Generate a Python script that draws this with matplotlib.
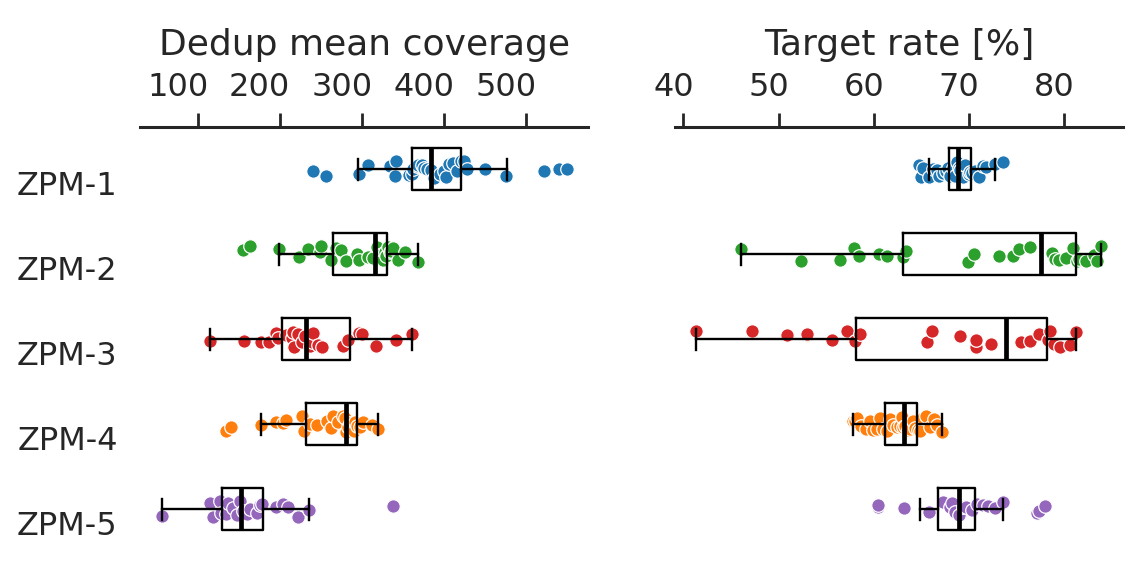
import numpy as np
import matplotlib
matplotlib.use("Agg")
import matplotlib.pyplot as plt
from matplotlib.transforms import ScaledTranslation

# ---------------------------------------------------------------- data
samples = ["ZPM-1", "ZPM-2", "ZPM-3", "ZPM-4", "ZPM-5"]
colors = ["#1f77b4", "#2ca02c", "#d62728", "#ff7f0e", "#9467bd"]

# Dedup mean coverage per library
coverage_zpm1 = [240, 256, 296, 307, 334, 341, 342, 358, 361, 362, 367, 369, 373,
                 376, 379, 384, 388, 395, 400, 403, 406, 411, 416, 421, 424, 428,
                 450, 476, 522, 540, 550]
coverage_zpm2 = [155, 164, 199, 223, 234, 249, 250, 263, 269, 275, 281, 294, 297,
                 308, 314, 318, 322, 324, 326, 328, 330, 332, 334, 336, 338, 344,
                 352, 369]
coverage_zpm3 = [115, 156, 177, 187, 196, 198, 208, 215, 216, 217, 222, 227, 231,
                 237, 239, 241, 247, 251, 277, 283, 296, 300, 317, 342, 361]
coverage_zpm4 = [135, 140, 177, 195, 204, 208, 227, 230, 237, 245, 257, 263, 265,
                 271, 277, 279, 281, 283, 286, 288, 290, 292, 294, 298, 302, 312,
                 320]
coverage_zpm5 = [56, 115, 119, 127, 129, 134, 137, 143, 148, 152, 155, 160, 164,
                 172, 176, 178, 196, 204, 210, 222, 236, 338]

# Target rate [%] per library
rate_zpm1 = [64.7, 65.0, 65.2, 65.8, 66.2, 66.6, 66.8, 67.3, 67.6, 67.8, 68.0, 68.3,
             68.5, 68.7, 68.9, 69.1, 69.4, 69.6, 70.0, 70.1, 70.3, 70.6, 71.0,
             71.5, 71.8, 72.7, 73.6]
rate_zpm2 = [46.1, 52.4, 56.4, 57.9, 58.4, 60.5, 61.4, 63.1, 63.4, 69.9, 70.5, 73.1,
             74.6, 75.2, 76.4, 78.7, 79.0, 79.5, 80.2, 80.9, 81.3, 81.6, 82.3,
             83.1, 83.4, 83.9]
rate_zpm3 = [41.3, 47.2, 50.9, 53.0, 53.0, 55.6, 57.2, 58.0, 58.6, 65.6, 66.1, 69.1,
             70.7, 70.7, 72.3, 75.5, 76.4, 77.3, 78.3, 78.5, 78.9, 79.6, 80.6, 81.2]
rate_zpm4 = [57.8, 58.0, 58.2, 58.7, 59.2, 59.6, 59.9, 60.3, 60.6, 61.0, 61.4, 61.7,
             62.0, 62.4, 62.7, 63.0, 63.1, 63.3, 63.6, 63.8, 64.1, 64.3, 64.6,
             64.9, 65.2, 65.5, 65.9, 66.3, 66.6, 67.2]
rate_zpm5 = [60.4, 60.4, 63.2, 65.8, 67.3, 68.0, 68.2, 68.5, 69.0, 69.4, 69.7, 70.3,
             70.8, 71.5, 72.0, 72.7, 73.6, 77.1, 77.3, 78.0]

# Box summaries (lower whisker, Q1, median, Q3, upper whisker)
coverage_whislo = [295.6, 199.4, 115.0, 176.7, 56.2]
coverage_q1 = [360.7, 265.2, 202.3, 231.5, 129.2]
coverage_median = [383.8, 316.0, 231.5, 280.6, 152.7]
coverage_q3 = [420.7, 330.2, 285.5, 293.7, 179.2]
coverage_whishi = [476.4, 368.7, 360.7, 320.0, 235.9]

rate_whislo = [65.8, 46.1, 41.3, 57.8, 64.85]
rate_q1 = [67.9, 63.1, 58.1, 61.2, 66.7]
rate_median = [68.8, 77.6, 73.9, 63.2, 69.0]
rate_q3 = [70.2, 81.2, 78.2, 64.5, 70.6]
rate_whishi = [72.7, 83.9, 81.2, 67.2, 73.6]

coverage_ticks = [100, 200, 300, 400, 500]
rate_ticks = [40, 50, 60, 70, 80]

# ---------------------------------------------------------------- style
TEXT = "#262626"
plt.rcParams.update({
    "font.family": ["DejaVu Sans"],
    "font.size": 23,
    "text.color": TEXT,
    "axes.labelcolor": TEXT,
    "xtick.color": TEXT,
    "ytick.color": TEXT,
})

fig = plt.figure(figsize=(11.26, 5.63), dpi=100)
ax_cov = fig.add_axes([0.1243, 0.0201, 0.3981, 0.7549])
ax_rate = fig.add_axes([0.5995, 0.0201, 0.3981, 0.7549])

jitter_rng = np.random.default_rng(7)


def draw_panel(ax, groups, lo, q1, med, q3, hi, ticks, xlim, label):
    for i, (vals, col) in enumerate(zip(groups, colors)):
        vals = np.asarray(vals, dtype=float)
        y = i + jitter_rng.uniform(-0.1, 0.1, size=len(vals))
        ax.scatter(vals, y, s=95, color=col, edgecolors="white",
                   linewidths=0.9, zorder=2)
    stats = [dict(whislo=a, q1=b, med=c, q3=d, whishi=e, fliers=[])
             for a, b, c, d, e in zip(lo, q1, med, q3, hi)]
    line = dict(color="black", linewidth=1.7)
    ax.bxp(stats, positions=range(len(stats)), widths=0.5,
           orientation="horizontal", showfliers=False, manage_ticks=False,
           boxprops=line, whiskerprops=line, capprops=line,
           medianprops=dict(color="black", linewidth=3.4), zorder=3)

    ax.set_ylim(len(stats) - 0.5, -0.5)
    ax.set_xlim(*xlim)
    ax.set_xticks(ticks)
    ax.xaxis.tick_top()
    ax.xaxis.set_label_position("top")
    ax.set_xlabel(label, labelpad=12, fontsize=26)
    ax.tick_params(axis="x", direction="out", length=10, width=2.0, pad=7)
    for side in ("left", "right", "bottom"):
        ax.spines[side].set_visible(False)
    ax.spines["top"].set_linewidth(2.2)
    ax.spines["top"].set_color(TEXT)
    ax.set_facecolor("none")


draw_panel(ax_cov, [coverage_zpm1, coverage_zpm2, coverage_zpm3, coverage_zpm4,
                    coverage_zpm5],
           coverage_whislo, coverage_q1, coverage_median, coverage_q3,
           coverage_whishi, coverage_ticks, (29.7, 575.8), "Dedup mean coverage")
draw_panel(ax_rate, [rate_zpm1, rate_zpm2, rate_zpm3, rate_zpm4, rate_zpm5],
           rate_whislo, rate_q1, rate_median, rate_q3, rate_whishi,
           rate_ticks, (39.13, 86.2), "Target rate [%]")

# sample names on the left panel only
ax_cov.set_yticks(range(len(samples)))
ax_cov.set_yticklabels(samples)
ax_cov.tick_params(axis="y", length=0, pad=16)
ax_rate.set_yticks([])

# final label placement: right-aligned top labels nudged past their tick,
# sample names dropped a little below their row
label_nudge = ScaledTranslation(10.6 / 100, 0, fig.dpi_scale_trans)
for ax in (ax_cov, ax_rate):
    for tick in ax.xaxis.get_major_ticks():
        tick.label2.set_horizontalalignment("right")
        tick.label2.set_transform(tick.label2.get_transform() + label_nudge)
row_shift = ScaledTranslation(0, -14 / 100, fig.dpi_scale_trans)
for tick in ax_cov.yaxis.get_major_ticks():
    tick.label1.set_transform(tick.label1.get_transform() + row_shift)

fig.savefig("out.png", dpi=100)
